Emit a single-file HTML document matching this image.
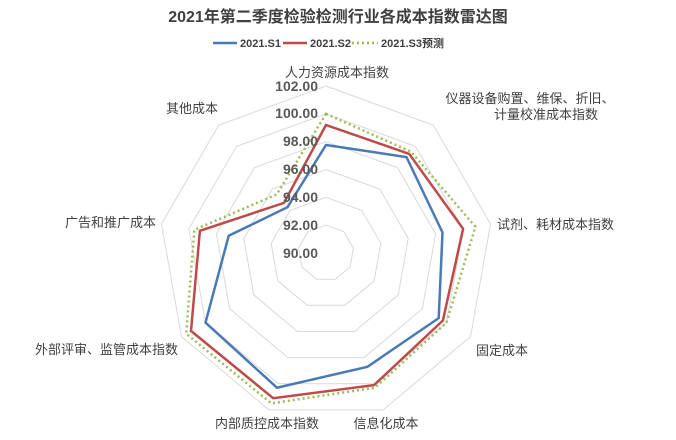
<!DOCTYPE html>
<html><head><meta charset="utf-8"><style>
html,body{margin:0;padding:0;background:#fff;}
svg{display:block;font-family:"Liberation Sans","Noto Sans CJK SC",sans-serif;}
</style></head><body>
<svg id="s" width="676" height="440" viewBox="0 0 676 440" xmlns="http://www.w3.org/2000/svg">
<text x="338" y="22" text-anchor="middle" font-size="16" font-weight="bold" fill="#404040">2021年第二季度检验检测行业各成本指数雷达图</text>
<line x1="213" y1="43" x2="237" y2="43" stroke="#4a7ab5" stroke-width="2.5"/>
<text x="240" y="47" font-size="11" font-weight="bold" fill="#404040">2021.S1</text>
<line x1="283" y1="43" x2="307" y2="43" stroke="#be4b48" stroke-width="2.5"/>
<text x="310" y="47" font-size="11" font-weight="bold" fill="#404040">2021.S2</text>
<line x1="352" y1="43" x2="378" y2="43" stroke="#9bbb59" stroke-width="2.5" stroke-dasharray="2,3"/>
<text x="381" y="47" font-size="11" font-weight="bold" fill="#404040">2021.S3预测</text>
<g id="g"></g>
<g font-size="13" fill="#404040">
<text x="337" y="77" text-anchor="middle">人力资源成本指数</text>
<text x="530" y="103" text-anchor="middle">仪器设备购置、维保、折旧、</text>
<text x="546" y="119" text-anchor="middle">计量校准成本指数</text>
<text x="497" y="229">试剂、耗材成本指数</text>
<text x="476" y="355">固定成本</text>
<text x="386" y="428" text-anchor="middle">信息化成本</text>
<text x="267" y="428" text-anchor="middle">内部质控成本指数</text>
<text x="178" y="354" text-anchor="end">外部评审、监管成本指数</text>
<text x="156" y="227" text-anchor="end">广告和推广成本</text>
<text x="218" y="113" text-anchor="end">其他成本</text>
</g>
<g font-size="14" font-weight="bold" fill="#595959" text-anchor="end">
<text x="318" y="91">102.00</text>
<text x="318" y="118">100.00</text>
<text x="318" y="146">98.00</text>
<text x="318" y="174">96.00</text>
<text x="318" y="202">94.00</text>
<text x="318" y="230">92.00</text>
<text x="318" y="258">90.00</text>
</g>
</svg>
<script>
var cx=326,cy=253,R=167,N=9,g=document.getElementById('g'),h='';
function pt(v,k){var r=(v-90)/12*R,a=(-90+40*k)*Math.PI/180;return (cx+r*Math.cos(a)).toFixed(1)+','+(cy+r*Math.sin(a)).toFixed(1);}
for(var v=92;v<=102;v+=2){var p=[];for(var k=0;k<N;k++)p.push(pt(v,k));h+='<polygon points="'+p.join(' ')+'" fill="none" stroke="#d9d9d9" stroke-width="1"/>';}
var S=[
[[97.76,99.0,98.5,99.35,98.7,100.3,100,97.1,94.3],'#4a7ab5',''],
[[99.2,99.3,100,99.7,100.1,101.1,101.2,99.2,94.7],'#be4b48',''],
[[100,99.5,100.9,100,100.3,101.5,101.6,99.6,95.5],'#9bbb59','2,3']];
var out='';
S.forEach(function(s){var p=s[0].map(function(v,k){return pt(v,k);});out='<polygon points="'+p.join(' ')+'" fill="none" stroke="'+s[1]+'" stroke-width="2.5"'+(s[2]?' stroke-dasharray="'+s[2]+'"':'')+'/>'+out;});
g.innerHTML=h+out;
</script>
</body></html>
